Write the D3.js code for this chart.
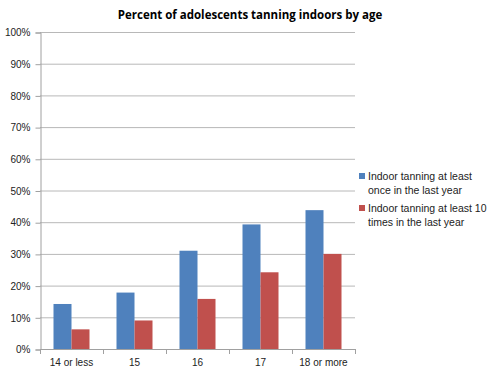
<!DOCTYPE html>
<html><head><meta charset="utf-8">
<script src="https://cdn.jsdelivr.net/npm/d3@7"></script>
<style>body{margin:0;background:#fff}svg{display:block}</style>
</head><body><svg id="c" width="500" height="375"></svg>
<script>
const categories = ["14 or less","15","16","17","18 or more"];
const seriesNames = ["Indoor tanning at least once in the last year","Indoor tanning at least 10 times in the last year"];
const onceValues = [14.2,17.8,31,39.3,43.8];
const tenValues = [6.2,9,15.8,24.2,30];
const yTicks = [0,10,20,30,40,50,60,70,80,90,100];
const colors = ["#4F81BD","#C0504D"];
const legendLines = [["Indoor tanning at least","once in the last year"],["Indoor tanning at least 10","times in the last year"]];

(function(){
const svg = d3.select("#c");
const font = "'Liberation Sans', Arial, sans-serif";
const pLeft = 40, pRight = 355, pTop = 32, pBottom = 349;
const x = d3.scaleBand().domain(categories).range([pLeft,pRight]).paddingInner(0).paddingOuter(0);
const y = d3.scaleLinear().domain([0,100]).range([pBottom,pTop]);

svg.append("text").attr("x",250).attr("y",19).attr("text-anchor","middle")
  .attr("font-family","'Open Sans', sans-serif").attr("font-weight","bold").attr("font-size",11.5).attr("fill","#000")
  .text("Percent of adolescents tanning indoors by age");

svg.append("g").selectAll("line").data(yTicks.filter(d=>d>0)).join("line")
  .attr("x1",pLeft).attr("x2",pRight).attr("y1",d=>y(d)+0.5).attr("y2",d=>y(d)+0.5)
  .attr("stroke","#b8b8b8").attr("stroke-width",1);

const ya = svg.append("g").attr("transform",`translate(${pLeft+0.5},0.5)`)
  .call(d3.axisLeft(y).tickValues(yTicks).tickFormat(d=>d+"%").tickSize(5).tickPadding(5));
ya.select(".domain").attr("stroke","#a0a0a0");
ya.selectAll(".tick line").attr("stroke","#a0a0a0");
ya.selectAll("text").attr("font-family",font).attr("font-size",10).attr("fill","#222");

const sub = d3.scaleBand().domain([0,1]).range([0,36]);
const groups = svg.append("g").selectAll("g").data(categories).join("g")
  .attr("transform",d=>`translate(${x(d)+ (x.bandwidth()-36)/2},0)`);
groups.each(function(c,i){
  const vals=[onceValues[i],tenValues[i]];
  d3.select(this).selectAll("rect").data(vals).join("rect")
    .attr("x",(d,j)=>sub(j)).attr("width",sub.bandwidth())
    .attr("y",d=>y(d)).attr("height",d=>y(0)-y(d))
    .attr("fill",(d,j)=>colors[j]);
});

const xg = svg.append("g");
xg.append("line").attr("x1",pLeft).attr("x2",pRight).attr("y1",pBottom+0.5).attr("y2",pBottom+0.5).attr("stroke","#a0a0a0");
const bounds = categories.map(c=>x(c)).concat([pRight]);
xg.selectAll("line.t").data(bounds).join("line").attr("class","t")
  .attr("x1",d=>Math.round(d)+0.5).attr("x2",d=>Math.round(d)+0.5).attr("y1",pBottom).attr("y2",pBottom+5).attr("stroke","#a0a0a0");
xg.selectAll("text").data(categories).join("text")
  .attr("x",d=>x(d)+x.bandwidth()/2).attr("y",pBottom+17).attr("text-anchor","middle")
  .attr("font-family",font).attr("font-size",10).attr("fill","#222").text(d=>d);

const lg = svg.append("g");
seriesNames.forEach((s,i)=>{
  const y0 = 180 + i*32;
  lg.append("rect").attr("x",359).attr("y",y0-7).attr("width",6).attr("height",6).attr("fill",colors[i]);
  lg.append("text").attr("x",368).attr("y",y0).attr("font-family",font).attr("font-size",10.5).attr("fill","#222")
    .selectAll("tspan").data(legendLines[i]).join("tspan").attr("x",368).attr("dy",(d,k)=>k?14:0).text(d=>d);
});
})();
</script></body></html>
